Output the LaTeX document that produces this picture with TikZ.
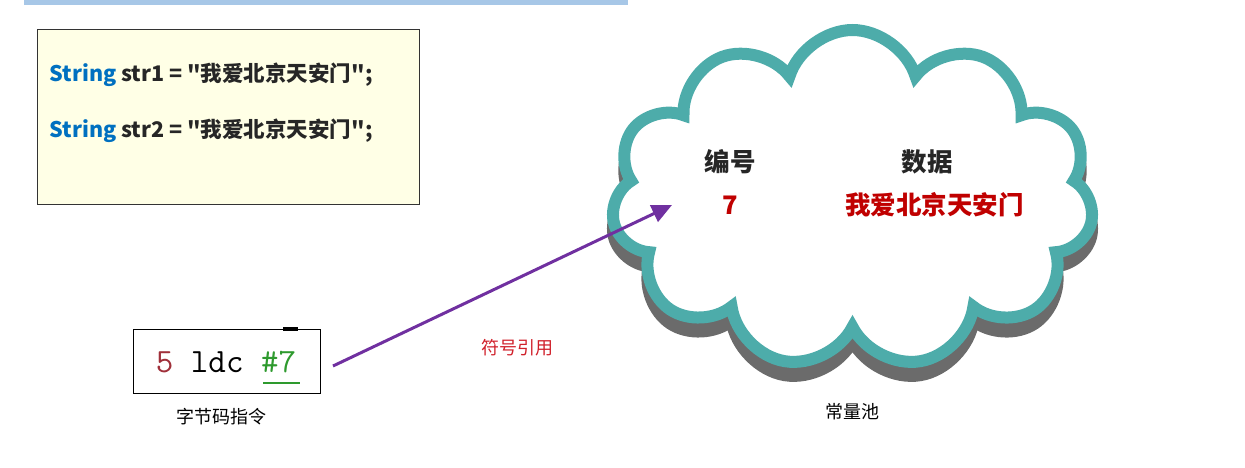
\documentclass[tikz,border=0pt]{standalone}
\usepackage{fontspec}
\usepackage{xcolor}
\usetikzlibrary{arrows.meta,positioning,shapes.symbols}
\newfontfamily\cjk{Noto Sans CJK SC}
\definecolor{codeblue}{HTML}{0070C0}
\definecolor{codebg}{HTML}{FFFFE6}
\definecolor{poolteal}{HTML}{4DACAA}
\definecolor{poolshade}{HTML}{6B6B6B}
\definecolor{datared}{HTML}{C00000}
\definecolor{refred}{HTML}{D0202A}
\definecolor{refpurple}{HTML}{7030A0}
\definecolor{opred}{HTML}{A0303A}
\definecolor{opgreen}{HTML}{2E9A2E}
\definecolor{hlblue}{HTML}{A7C7E7}

\begin{document}
\begin{tikzpicture}[
  x=1pt, y=-1pt,
  >=Stealth,
  codebox/.style={rectangle, draw=black!80, fill=codebg, line width=0.9pt, minimum width=382pt, minimum height=175pt, anchor=north west},
  codeline/.style={anchor=west, font=\cjk\bfseries\fontsize{21.5}{24}\selectfont, text=black!85},
  insnbox/.style={rectangle, draw=black, fill=white, line width=0.9pt, minimum width=187pt, minimum height=64pt, anchor=north west},
  pool/.style={cloud, cloud puffs=11, cloud puff arc=145, aspect=1.45, minimum width=482pt, minimum height=338pt, line width=12pt},
  head/.style={font=\cjk\bfseries\fontsize{25.5}{28}\selectfont, text=black!85},
  datum/.style={font=\cjk\bfseries\fontsize{25.5}{28}\selectfont, text=datared},
  caption/.style={font=\cjk\fontsize{18}{20}\selectfont},
  ref/.style={draw=refpurple, line width=3pt, -{Triangle[length=20pt,width=18pt]}}
]
  \useasboundingbox (0,0) rectangle (1245,467);
  % cut-off line of the page above
  \fill[hlblue] (24,0) rectangle (628,5);

  % source code
  \node[codebox] (code) at (37,29) {};
  \node[codeline] (line1) at (46,75) {\textcolor{codeblue}{String} str1 = "我爱北京天安门";};
  \node[codeline] (line2) at (46,131) {\textcolor{codeblue}{String} str2 = "我爱北京天安门";};

  % constant pool
  \node[pool, draw=poolshade, fill=poolshade] (poolshadow) at (852.5,213) {};
  \node[pool, draw=poolteal, fill=white] (cpool) at (852.5,199) {};
  \node[head] (numhead) at (730,162) {编号};
  \node[head] (datahead) at (927,162) {数据};
  \node[datum] (num) at (730,205) {7};
  \node[datum] (data) at (934.5,205) {我爱北京天安门};
  \node[caption] (poolname) at (852,412) {常量池};

  % bytecode instruction
  \node[insnbox] (insn) at (133,329) {};
  \fill[black] (283,327) rectangle (298,331);
  \node[font=\ttfamily\fontsize{34}{36}\selectfont] (insntext) at (226,362)
    {\textcolor{opred}{5} ldc \textcolor{opgreen}{\#7}};
  \draw[opgreen, line width=1.6pt] (263,383) -- (300,383);
  \node[caption] (insnname) at (221,417) {字节码指令};

  % symbolic reference
  \coordinate (refend) at (672,205);
  \draw[ref] (333,366) -- (refend);
  \node[caption, text=refred] (reflabel) at (517,348) {符号引用};
\end{tikzpicture}
\end{document}
